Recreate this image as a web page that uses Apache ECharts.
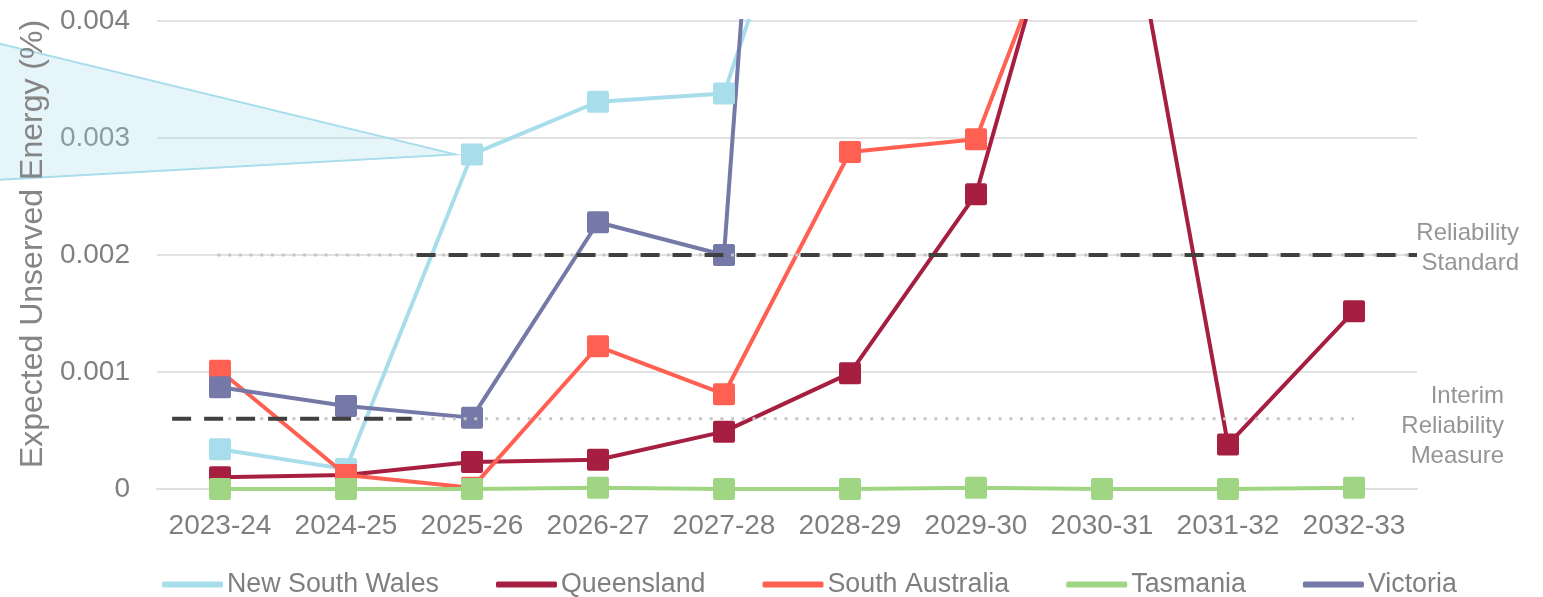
<!DOCTYPE html>
<html>
<head>
<meta charset="utf-8">
<title>Expected Unserved Energy by region</title>
<script src="https://cdn.jsdelivr.net/npm/echarts@6/dist/echarts.min.js"></script>
<style>
  html, body { margin: 0; padding: 0; background: #ffffff; }
  #chart { width: 1543px; height: 597px; }
</style>
</head>
<body>
<div id="chart"></div>
<script>
// Financial years on the category axis
const categories = ['2023-24', '2024-25', '2025-26', '2026-27', '2027-28',
                    '2028-29', '2029-30', '2030-31', '2031-32', '2032-33'];

// Expected unserved energy (%) per region
const newSouthWales = [0.00034, 0.00017, 0.00286, 0.00331, 0.00338, 0.0066, 0.0081, 0.0094, 0.0072, 0.0069];
const queensland    = [0.00010, 0.00012, 0.00023, 0.00025, 0.00049, 0.00099, 0.00252, 0.0063, 0.00038, 0.00152];
const southAustralia = [0.00101, 0.00012, 0.00001, 0.00122, 0.00081, 0.00288, 0.00299, 0.0058, 0.0067, 0.0061];
const tasmania      = [0, 0, 0, 0.00001, 0, 0, 0.00001, 0, 0, 0.00001];
const victoria      = [0.00087, 0.00071, 0.00061, 0.00228, 0.00200, 0.0167, 0.0121, 0.0143, 0.0098, 0.0089];

// Y axis ticks
const yTicks = [0, 0.001, 0.002, 0.003, 0.004];

// Reliability thresholds (%)
const reliabilityStandard = 0.002;
const interimMeasure = 0.0006;

// Horizontal spans of the threshold lines, in category-width units (0 = left edge, 10 = right edge)
const standardDashSpan = [2.06, 10];
const standardDotSpan  = [0.48, 10];
const interimDashSpan  = [0.12, 2.02];
const interimDotSpan   = [0.48, 9.5];

const regions = [
  { name: 'New South Wales', data: newSouthWales, color: '#A8DDEB' },
  { name: 'Queensland',      data: queensland,    color: '#A61F40' },
  { name: 'South Australia', data: southAustralia, color: '#FF6052' },
  { name: 'Tasmania',        data: tasmania,      color: '#A0D683' },
  { name: 'Victoria',        data: victoria,      color: '#7479A7' }
];

const FONT = '"Liberation Sans", Arial, sans-serif';
const GREY_TEXT = '#7F7F7F';

// Square marker with slightly softened corners
const SQUARE = 'path://M2,0H20Q22,0 22,2V20Q22,22 20,22H2Q0,22 0,20V2Q0,0 2,0Z';

const chart = echarts.init(document.getElementById('chart'), null, { renderer: 'canvas' });

const regionSeries = regions.map(r => ({
  name: r.name,
  type: 'line',
  data: r.data,
  xAxisIndex: 0,
  yAxisIndex: 0,
  symbol: SQUARE,
  symbolSize: 22,
  lineStyle: { width: 4, color: r.color },
  itemStyle: { color: r.color },
  z: 3,
  clip: true
}));

function refLine(name, span, value, style, z) {
  return {
    name: name,
    type: 'line',
    xAxisIndex: 1,
    yAxisIndex: 0,
    data: [[span[0], value], [span[1], value]],
    symbol: 'none',
    lineStyle: style,
    silent: true,
    z: z
  };
}

const dotStyle  = { width: 3, color: '#C6C6C6', type: [3, 7.7], cap: 'butt' };
const dashStyle = { width: 4, color: '#404040', type: [19, 13] };

const option = {
  animation: false,
  textStyle: { fontFamily: FONT },
  grid: { left: 157, right: 126, top: 21, bottom: 108, containLabel: false },
  legend: {
    data: regions.map(r => r.name),
    left: 162,
    top: 571,
    padding: 0,
    icon: 'roundRect',
    itemWidth: 61,
    itemHeight: 6,
    itemGap: 57,
    textStyle: { fontSize: 26.8, color: GREY_TEXT, fontFamily: FONT, padding: [0, 0, 0, -1] }
  },
  xAxis: [
    {
      type: 'category',
      data: categories,
      boundaryGap: true,
      axisLine: { show: true, lineStyle: { color: '#DEDEDE', width: 2 } },
      axisTick: { show: false },
      axisLabel: { interval: 0, color: GREY_TEXT, fontSize: 28, margin: 23, fontFamily: FONT },
      splitLine: { show: false }
    },
    { type: 'value', min: 0, max: 10, show: false }
  ],
  yAxis: {
    type: 'value',
    min: yTicks[0],
    max: yTicks[yTicks.length - 1],
    interval: 0.001,
    axisLine: { show: false },
    axisTick: { show: false },
    axisLabel: {
      color: GREY_TEXT, fontSize: 28, margin: 27, fontFamily: FONT,
      formatter: v => (v === 0 ? '0' : v.toFixed(3))
    },
    splitLine: { lineStyle: { color: '#E2E2E2', width: 2 } }
  },
  series: [
    ...regionSeries,
    refLine('standard-dot', standardDotSpan, reliabilityStandard, dotStyle, 4),
    refLine('interim-dot', interimDotSpan, interimMeasure, dotStyle, 4),
    refLine('standard-dash', standardDashSpan, reliabilityStandard, dashStyle, 5),
    refLine('interim-dash', interimDashSpan, interimMeasure, dashStyle, 5)
  ]
};

chart.setOption(option);

// Annotations placed from the axes: callout pointing at NSW 2025-26, threshold captions, axis title
const nswIdx = categories.indexOf('2025-26');
const tip = chart.convertToPixel({ seriesIndex: 0 }, [nswIdx, newSouthWales[nswIdx]]);
const tipX = tip[0] - 17, tipY = tip[1];
const yStd = chart.convertToPixel({ yAxisIndex: 0 }, reliabilityStandard);
const yInt = chart.convertToPixel({ yAxisIndex: 0 }, interimMeasure);
const yTop = chart.convertToPixel({ yAxisIndex: 0 }, yTicks[yTicks.length - 1]);
const yBottom = chart.convertToPixel({ yAxisIndex: 0 }, yTicks[0]);

chart.setOption({
  graphic: [
    {
      type: 'polygon',
      z: 1,
      silent: true,
      shape: { points: [[-10, tipY - 113], [tipX, tipY], [-10, tipY + 26]] },
      style: { fill: 'rgba(169,221,236,0.3)', stroke: '#A8DDEB', lineWidth: 2 }
    },
    {
      type: 'text',
      z: 10,
      x: 33,
      y: (yTop + yBottom) / 2 - 11,
      rotation: Math.PI / 2,
      style: {
        text: 'Expected Unserved Energy (%)',
        fill: '#858585',
        font: '32px ' + FONT,
        align: 'center',
        verticalAlign: 'middle'
      }
    },
    {
      type: 'text',
      z: 10,
      x: 1519,
      y: yStd - 7,
      style: {
        text: 'Reliability\nStandard',
        fill: '#959595',
        font: '24px ' + FONT,
        lineHeight: 30,
        align: 'right',
        verticalAlign: 'middle'
      }
    },
    {
      type: 'text',
      z: 10,
      x: 1504,
      y: yInt + 8,
      style: {
        text: 'Interim\nReliability\nMeasure',
        fill: '#959595',
        font: '24px ' + FONT,
        lineHeight: 30,
        align: 'right',
        verticalAlign: 'middle'
      }
    }
  ]
});
</script>
</body>
</html>
